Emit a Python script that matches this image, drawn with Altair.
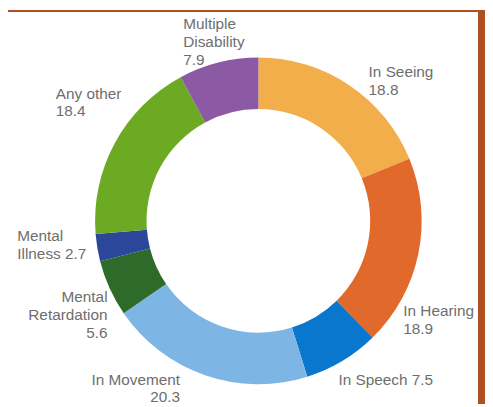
import altair as alt
import pandas as pd

categories = ["In Seeing", "In Hearing", "In Speech", "In Movement",
              "Mental Retardation", "Mental Illness", "Any other", "Multiple Disability"]
values = [18.8, 18.9, 7.5, 20.3, 5.6, 2.7, 18.4, 7.9]
label_heads = ["In Seeing", "In Hearing", "In Speech", "In Movement",
               "Mental\nRetardation", "Mental\nIllness", "Any other", "Multiple\nDisability"]
label_seps = ["\n", "\n", " ", "\n", "\n", " ", "\n", "\n"]
colors = ["#F2AE4B", "#E0692B", "#0A77CF", "#7DB5E5",
          "#2E6B2A", "#2B479A", "#6DAA24", "#8C5AA5"]

df = pd.DataFrame({
    "category": categories,
    "value": values,
    "idx": list(range(len(categories))),
    "label": [f"{h}{s}{v}" for h, s, v in zip(label_heads, label_seps, values)],
})

W, H = 482, 398
CX, CY = 253, 213
BORDER = "#AF4F24"
TEXT = "#6E6E6E"

base = alt.Chart(df)

theta = alt.Theta("value:Q", stack=True)
order = alt.Order("idx:Q", sort="ascending")

arcs = base.mark_arc(radius=165, radius2=113, stroke=None).encode(
    theta=theta,
    order=order,
    color=alt.Color("category:N", scale=alt.Scale(domain=categories, range=colors), legend=None),
    x=alt.value(CX),
    y=alt.value(CY),
)

label_style = {
    "In Seeing": ("left", 14, 0),
    "In Hearing": ("left", -25, 61),
    "In Speech": ("left", -9, 16),
    "In Movement": ("right", -22, 0),
    "Mental Retardation": ("right", 7, 10),
    "Mental Illness": ("left", -71, -8),
    "Any other": ("left", -51, -40),
    "Multiple Disability": ("left", -33, -24),
}

texts = []
for cat in categories:
    al, dx, dy = label_style[cat]
    t = base.mark_text(
        radius=175, align=al, baseline="alphabetic", dx=dx, dy=dy,
        fontSize=15.5, font="Liberation Sans", color=TEXT,
        lineBreak="\n", lineHeight=18,
    ).encode(
        theta=theta,
        order=order,
        text=alt.condition(f"datum.category == '{cat}'", "label:N", alt.value("")),
        x=alt.value(CX),
        y=alt.value(CY),
    )
    texts.append(t)

top_band = alt.Chart(df).mark_rect(color=BORDER).encode(
    x=alt.value(0), x2=alt.value(482), y=alt.value(0), y2=alt.value(2)
)
right_band = alt.Chart(df).mark_rect(color=BORDER).encode(
    x=alt.value(475), x2=alt.value(482), y=alt.value(0), y2=alt.value(H)
)

chart = alt.layer(arcs, *texts, top_band, right_band).properties(
    width=W, height=H, autosize=alt.AutoSizeParams(type="none"), padding=0,
    background="white",
).configure_view(stroke=None)

chart.save("out.html", embed_options={"renderer": "svg", "actions": False})
